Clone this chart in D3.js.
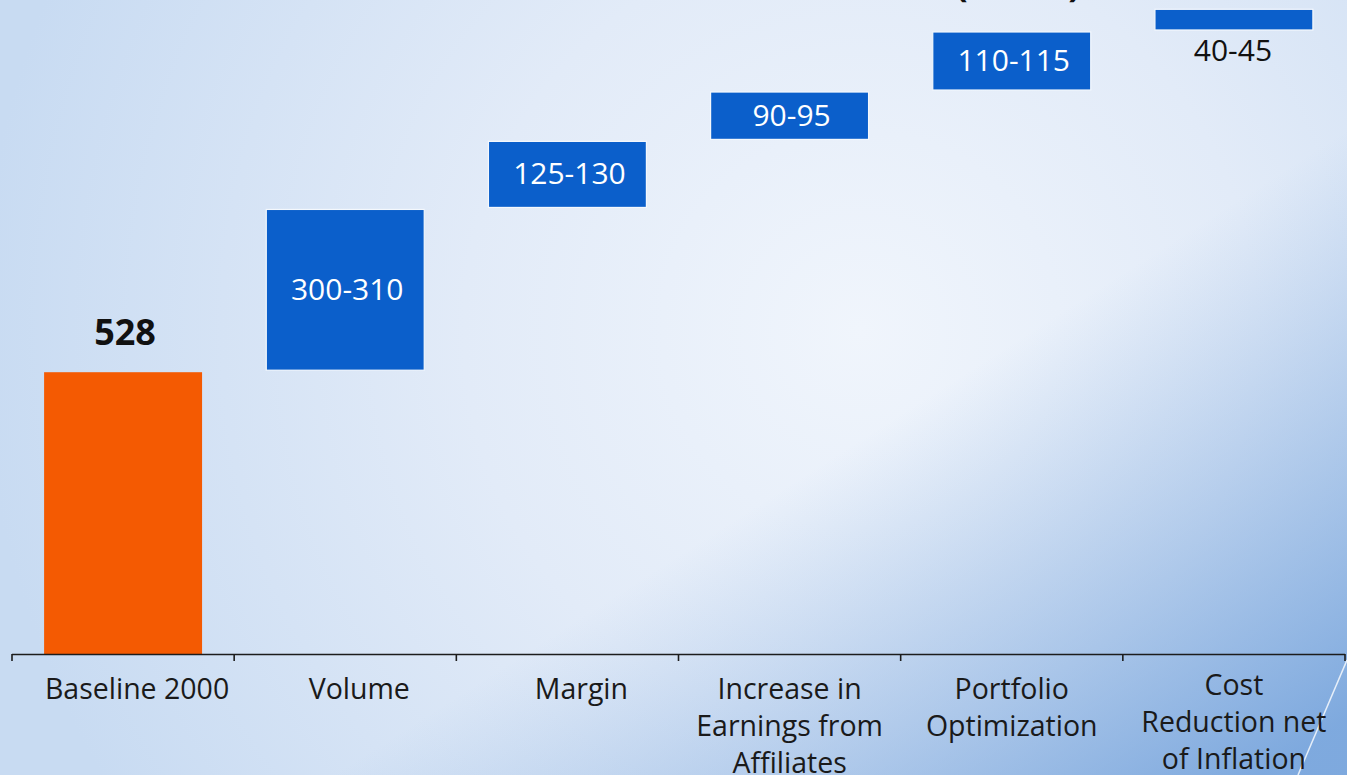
<!DOCTYPE html>
<html>
<head>
<meta charset="utf-8">
<script src="https://cdn.jsdelivr.net/npm/d3@7"></script>
<style>
html,body{margin:0;padding:0;overflow:hidden;background:#dce8f6;}
svg{display:block;}
</style>
</head>
<body>
<svg id="chart" width="1347" height="775"></svg>
<script>
// ---- data ----
const categories = ["Baseline 2000", "Volume", "Margin", "Increase in Earnings from Affiliates", "Portfolio Optimization", "Cost Reduction net of Inflation"];
const labelLines = [["Baseline 2000"], ["Volume"], ["Margin"], ["Increase in", "Earnings from", "Affiliates"], ["Portfolio", "Optimization"], ["Cost", "Reduction net", "of Inflation"]];
const baseline = 528;
const increments = [305, 127.5, 92.5, 112.5, 42.5];   // midpoints of the ranges
const rangeLabels = ["528", "300-310", "125-130", "90-95", "110-115", "40-45"];
const unitLabel = "($ mm)";

// ---- build waterfall table ----
const rows = [];
let cum = 0;
[baseline, ...increments].forEach((v, i) => {
  rows.push({cat: categories[i], lines: labelLines[i], start: cum, end: cum + v, label: rangeLabels[i], base: i === 0});
  cum += v;
});

const W = 1347, H = 775;
const svg = d3.select("#chart");

// ---- background ----
const defs = svg.append("defs");
const rg = defs.append("radialGradient").attr("id", "bg").attr("gradientUnits", "userSpaceOnUse")
  .attr("cx", 860).attr("cy", 330).attr("r", 880);
rg.append("stop").attr("offset", 0).attr("stop-color", "#f0f5fc");
rg.append("stop").attr("offset", 0.45).attr("stop-color", "#e2ebf8");
rg.append("stop").attr("offset", 1).attr("stop-color", "#c8dbf2");
svg.append("rect").attr("width", W).attr("height", H).attr("fill", "url(#bg)");
const lg = defs.append("linearGradient").attr("id", "bgR").attr("gradientUnits", "userSpaceOnUse")
  .attr("x1", 1080).attr("y1", 300).attr("x2", 1347).attr("y2", 720);
lg.append("stop").attr("offset", 0).attr("stop-color", "#7aa6dc").attr("stop-opacity", 0);
lg.append("stop").attr("offset", 1).attr("stop-color", "#6f9fda").attr("stop-opacity", 0.85);
svg.append("rect").attr("width", W).attr("height", H).attr("fill", "url(#bgR)");
// thin white diagonal highlight bottom-right
svg.append("line").attr("x1", 1347).attr("y1", 660).attr("x2", 1298).attr("y2", 775)
  .attr("stroke", "#ffffff").attr("stroke-opacity", 0.8).attr("stroke-width", 1.5);

// ---- scales ----
const x = d3.scaleBand().domain(categories).range([12, 1345]).paddingInner(0.289).paddingOuter(0.1445);
const y = d3.scaleLinear().domain([0, d3.max(rows, d => d.end)]).range([654, 9.3]);

const font = "'Open Sans', 'Noto Sans', sans-serif";

// ---- bars ----
svg.append("g").selectAll("rect").data(rows).join("rect")
  .attr("x", d => x(d.cat))
  .attr("width", x.bandwidth())
  .attr("y", d => y(d.end))
  .attr("height", d => d.base ? y(d.start) - y(d.end) : y(d.start) - y(d.end) - 2)
  .attr("fill", d => d.base ? "#f45a02" : "#0b5fcb")
  .attr("stroke", d => d.base ? "none" : "#f4f8fd")
  .attr("stroke-width", 1.2);

// ---- value labels ----
const lab = svg.append("g").attr("font-family", font);
rows.forEach((d, i) => {
  const cx = x(d.cat) + x.bandwidth() / 2;
  if (d.base) {
    lab.append("text").attr("x", cx + 2).attr("y", y(d.end) - 27)
      .attr("text-anchor", "middle").attr("font-size", 36).attr("font-weight", 700)
      .attr("fill", "#111").text(d.label);
  } else if (i === rows.length - 1) {
    lab.append("text").attr("x", cx - 1).attr("y", y(d.start) + 29)
      .attr("text-anchor", "middle").attr("font-size", 30)
      .attr("fill", "#111").text(d.label);
  } else {
    const cy = (y(d.start) + y(d.end)) / 2;
    lab.append("text").attr("x", cx + 2).attr("y", cy + 1)
      .attr("dominant-baseline", "middle")
      .attr("text-anchor", "middle").attr("font-size", 30)
      .attr("fill", "#fff").text(d.label);
  }
});

// unit label cut off at the top
svg.append("text").attr("x", 1018).attr("y", -3).attr("text-anchor", "middle")
  .attr("font-family", font).attr("font-size", 36).attr("font-weight", 700)
  .attr("fill", "#111").text(unitLabel);

// ---- axis ----
const ax = svg.append("g").attr("stroke", "#1c1c1c");
const r0 = x.range()[0], r1 = x.range()[1];
ax.append("line").attr("x1", r0).attr("x2", r1).attr("y1", 654.5).attr("y2", 654.5).attr("stroke-width", 1.6);
ax.selectAll("line.tick").data(d3.range(categories.length + 1)).join("line").attr("class", "tick")
  .attr("x1", i => r0 + i * x.step()).attr("x2", i => r0 + i * x.step())
  .attr("y1", 654).attr("y2", 661).attr("stroke-width", 1.6);

// ---- category labels ----
const cl = svg.append("g").attr("font-family", font).attr("font-size", 28.5).attr("fill", "#1a1a1a");
rows.forEach((d, i) => {
  const cx = x(d.cat) + x.bandwidth() / 2 + (d.lines.length === 1 ? 14 : 0);
  const y0 = i === rows.length - 1 ? 695 : 699;
  d.lines.forEach((ln, j) => {
    cl.append("text").attr("x", cx).attr("y", y0 + j * 37).attr("text-anchor", "middle").text(ln);
  });
});
</script>
</body>
</html>
